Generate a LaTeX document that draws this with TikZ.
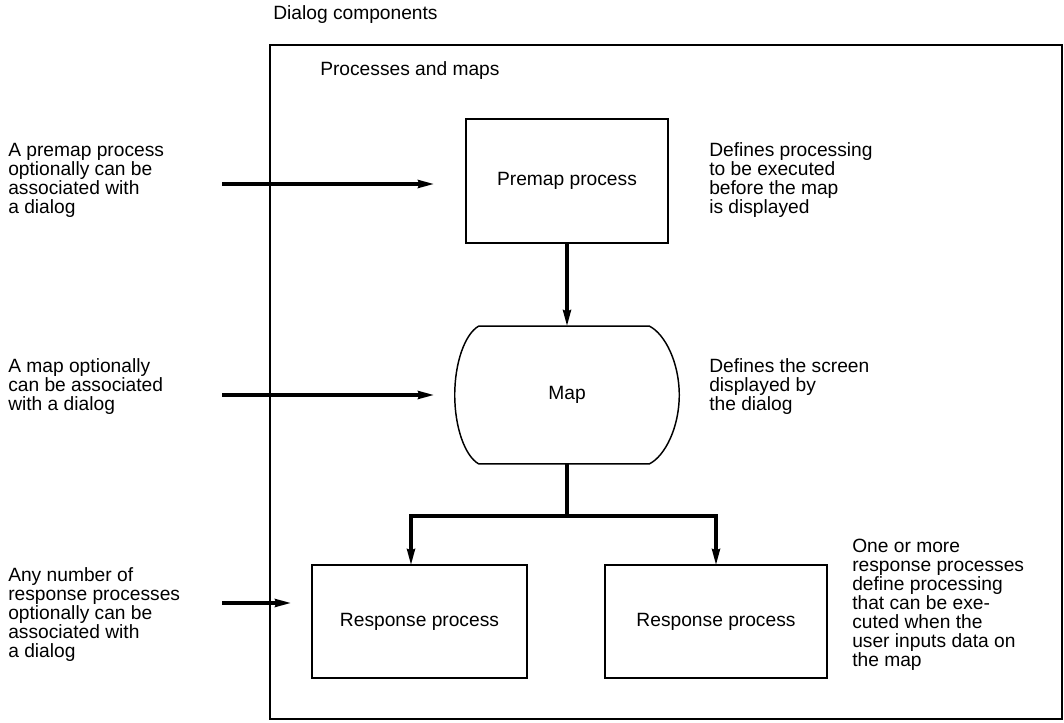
\documentclass[tikz,border=0pt]{standalone}
\usepackage{fontspec}
\setmainfont{Liberation Sans}
\usetikzlibrary{arrows.meta,calc}
\begin{document}
\begin{tikzpicture}[x=0.75pt,y=-0.75pt,
  txt/.style={font=\fontsize{14.4}{14.25}\selectfont},
  note/.style={txt,align=left,anchor=west,inner sep=0pt},
  procbox/.style={draw,line width=1.1pt,txt,inner sep=0pt},
  flow/.style={line width=2.3pt,-{Stealth[length=12pt,width=6pt,inset=1pt]}},
  trunk/.style={line width=2.3pt}]
\useasboundingbox (0,0) rectangle (1064,723);

% outer frame and headings
\node[note] (title) at (273,15) {Dialog components};
\draw[line width=1.1pt] (270,45) rectangle (1062,719);
\node[note] (inner) at (320,71) {Processes and maps};

% premap process
\node[procbox,minimum width=151.5pt,minimum height=93pt] (premap)
  at (567,181) {Premap process};

% map: plain node, outline drawn below
\node[txt,minimum width=168pt,minimum height=103pt,inner sep=0pt] (map) at (567,395) {Map};
\draw[line width=1.1pt]
  ($(map.north west)+(24,0)$) -- ($(map.north east)+(-30,0)$)
  .. controls ($(map.north east)+(-14,8)$) and ($(map.east)+(0,-32)$) .. (map.east)
  .. controls ($(map.east)+(0,32)$) and ($(map.south east)+(-14,-8)$) .. ($(map.south east)+(-30,0)$)
  -- ($(map.south west)+(24,0)$)
  .. controls ($(map.south west)+(10,-8)$) and ($(map.west)+(0,32)$) .. (map.west)
  .. controls ($(map.west)+(0,-32)$) and ($(map.north west)+(10,8)$) .. ($(map.north west)+(24,0)$);

% response processes
\node[procbox,minimum width=161pt,minimum height=85pt] (resp1) at (419.5,621.5) {Response process};
\node[procbox,minimum width=166.5pt,minimum height=85pt] (resp2) at (716,621.5) {Response process};

% flow between components
\draw[flow] (premap.south) -- (map.north);
\coordinate (split) at (map.south |- 0,516);
\draw[trunk] (map.south) -- (split);
\coordinate (leftdrop) at (411,565);
\coordinate (rightdrop) at (716,565);
\draw[flow] (split) -| (leftdrop);
\draw[flow] (split) -| (rightdrop);

% explanations on the left
\node[note] (lpremap) at (8,180) {A premap process\\optionally can be\\associated with\\a dialog};
\node[note] (lmap) at (8,387) {A map optionally\\can be associated\\with a dialog};
\node[note] (lresp) at (8,615) {Any number of\\response processes\\optionally can be\\associated with\\a dialog};
\coordinate (lpremapend) at (222,184);
\coordinate (lmapend) at (222,395);
\coordinate (lrespend) at (222,603);
\coordinate (premaptip) at (434,184);
\coordinate (maptip) at (434,395);
\coordinate (resptip) at (291,603);
\draw[flow] (lpremapend) -- (premaptip);
\draw[flow] (lmapend) -- (maptip);
\draw[flow] (lrespend) -- (resptip);

% explanations on the right
\node[note] (rpremap) at (709,180) {Defines processing\\to be executed\\before the map\\is displayed};
\node[note] (rmap) at (709,387) {Defines the screen\\displayed by\\the dialog};
\node[note] (rresp) at (852,605) {One or more\\response processes\\define processing\\that can be exe-\\cuted when the\\user inputs data on\\the map};
\end{tikzpicture}
\end{document}
